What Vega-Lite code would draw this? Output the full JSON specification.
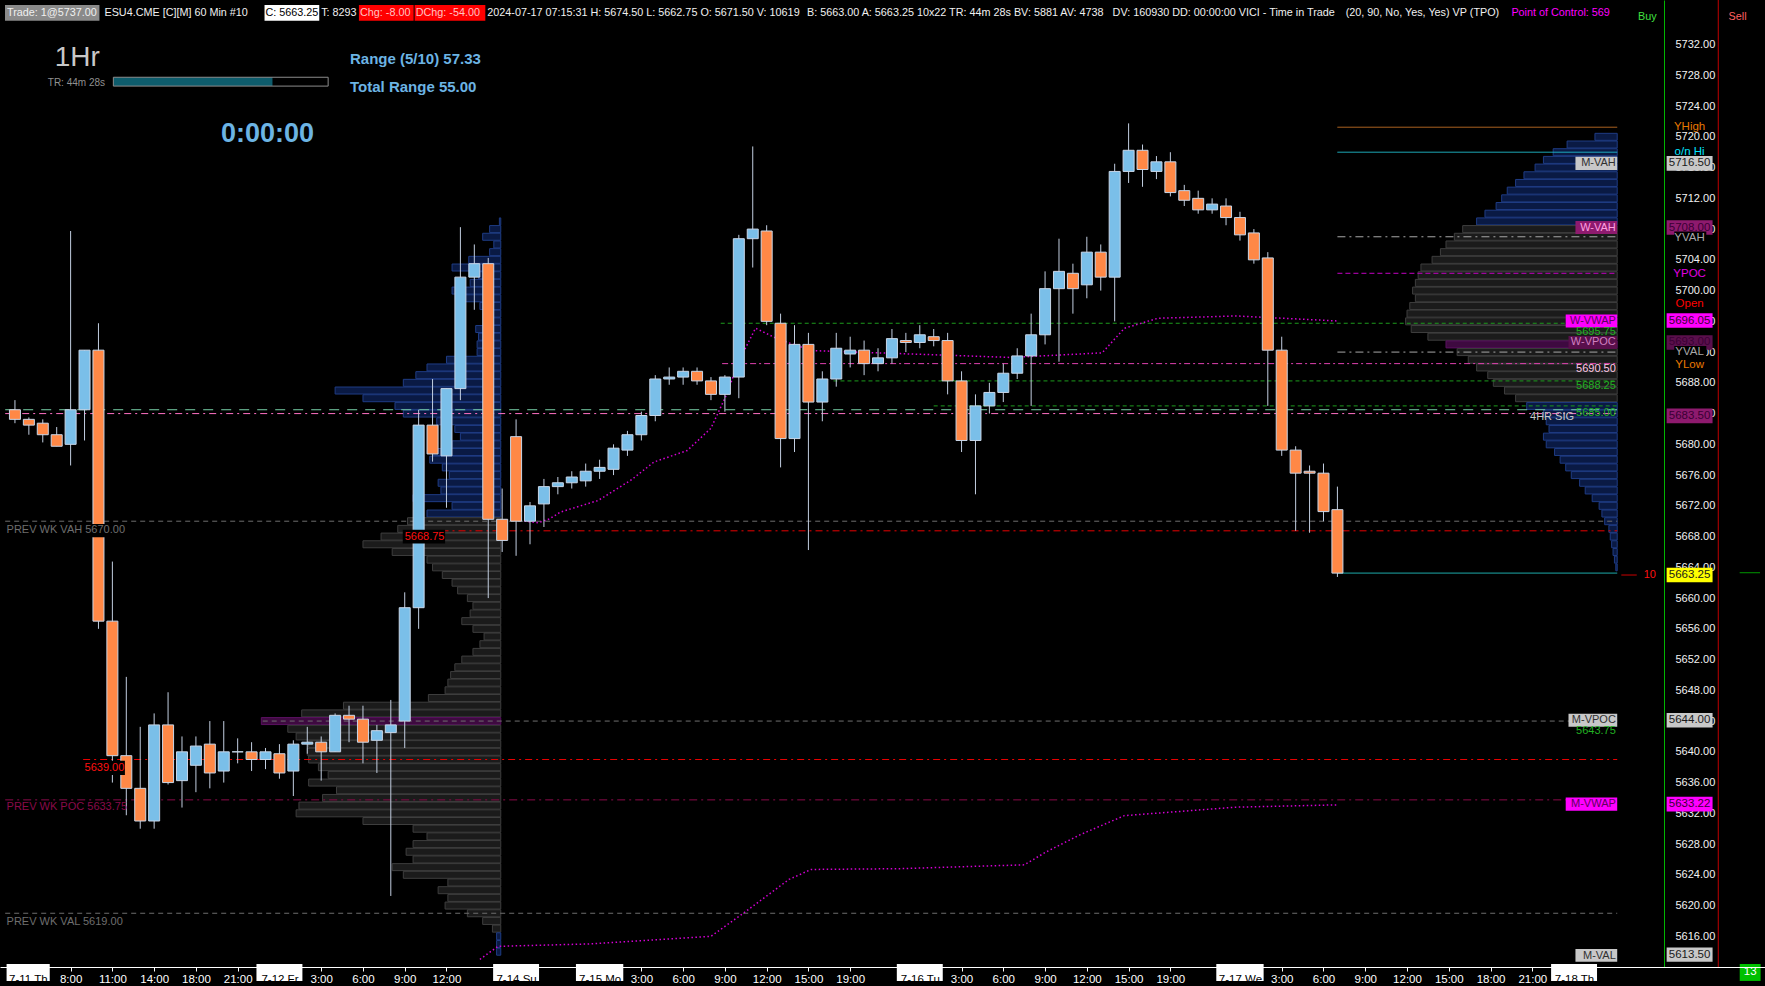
{
"$schema": "https://vega.github.io/schema/vega-lite/v6.json",
"width": 1765, "height": 967,
"autosize": {"type": "none"},
"padding": {"top": 0, "left": 0, "right": 0, "bottom": 19},
"background": "#000000",
"config": {"view": {"stroke": null}, "font": "Liberation Sans"},
"resolve": {"scale": {"fill": "independent", "stroke": "independent", "color": "independent", "strokeDash": "independent", "strokeWidth": "independent"}, "axis": {"x": "independent", "y": "independent"}},
"datasets": {
"candles": [
{"i":0,"o":5684.5,"h":5685.75,"l":5682.75,"c":5683.25},
{"i":1,"o":5683.25,"h":5683.5,"l":5681.25,"c":5682.5},
{"i":2,"o":5682.75,"h":5683.25,"l":5680.25,"c":5681.25},
{"i":3,"o":5681.25,"h":5682.25,"l":5679.75,"c":5679.75},
{"i":4,"o":5680.0,"h":5707.75,"l":5677.25,"c":5684.5},
{"i":5,"o":5684.5,"h":5692.25,"l":5680.5,"c":5692.25},
{"i":6,"o":5692.25,"h":5695.75,"l":5656.0,"c":5657.0},
{"i":7,"o":5657.0,"h":5664.75,"l":5636.0,"c":5639.5},
{"i":8,"o":5639.5,"h":5649.75,"l":5631.75,"c":5635.25},
{"i":9,"o":5635.25,"h":5643.25,"l":5630.0,"c":5631.0},
{"i":10,"o":5631.0,"h":5645.0,"l":5630.0,"c":5643.5},
{"i":11,"o":5643.5,"h":5647.75,"l":5635.75,"c":5636.0},
{"i":12,"o":5636.25,"h":5642.0,"l":5632.75,"c":5640.0},
{"i":13,"o":5638.25,"h":5642.0,"l":5634.75,"c":5640.75},
{"i":14,"o":5641.0,"h":5644.0,"l":5635.25,"c":5637.25},
{"i":15,"o":5637.5,"h":5644.0,"l":5636.0,"c":5640.0},
{"i":16,"o":5640.0,"h":5641.75,"l":5638.5,"c":5640.0},
{"i":17,"o":5640.0,"h":5641.25,"l":5637.5,"c":5639.0},
{"i":18,"o":5639.0,"h":5640.5,"l":5637.75,"c":5640.0},
{"i":19,"o":5639.75,"h":5641.0,"l":5636.5,"c":5637.25},
{"i":20,"o":5637.5,"h":5641.5,"l":5634.25,"c":5641.0},
{"i":21,"o":5641.0,"h":5643.25,"l":5639.75,"c":5641.25},
{"i":22,"o":5641.25,"h":5642.0,"l":5636.25,"c":5640.0},
{"i":23,"o":5640.0,"h":5645.0,"l":5640.0,"c":5644.75},
{"i":24,"o":5644.75,"h":5646.0,"l":5641.25,"c":5644.25},
{"i":25,"o":5644.25,"h":5646.0,"l":5638.5,"c":5641.25},
{"i":26,"o":5641.5,"h":5643.5,"l":5637.25,"c":5642.75},
{"i":27,"o":5642.5,"h":5646.75,"l":5621.25,"c":5643.5},
{"i":28,"o":5644.0,"h":5660.75,"l":5640.5,"c":5658.75},
{"i":29,"o":5658.75,"h":5684.5,"l":5656.0,"c":5682.5},
{"i":30,"o":5682.5,"h":5688.5,"l":5677.75,"c":5678.75},
{"i":31,"o":5678.5,"h":5687.25,"l":5671.75,"c":5687.25},
{"i":32,"o":5687.25,"h":5708.25,"l":5685.75,"c":5701.75},
{"i":33,"o":5701.75,"h":5706.0,"l":5697.5,"c":5703.5},
{"i":34,"o":5703.5,"h":5704.25,"l":5660.0,"c":5670.25},
{"i":35,"o":5670.25,"h":5674.25,"l":5666.0,"c":5667.5},
{"i":36,"o":5681.0,"h":5683.25,"l":5665.5,"c":5670.0},
{"i":37,"o":5670.0,"h":5672.5,"l":5667.0,"c":5672.0},
{"i":38,"o":5672.25,"h":5675.5,"l":5669.25,"c":5674.5},
{"i":39,"o":5674.5,"h":5675.75,"l":5673.5,"c":5675.0},
{"i":40,"o":5675.0,"h":5676.5,"l":5674.25,"c":5675.75},
{"i":41,"o":5675.25,"h":5677.5,"l":5674.5,"c":5676.5},
{"i":42,"o":5676.5,"h":5678.0,"l":5675.5,"c":5677.0},
{"i":43,"o":5676.75,"h":5680.0,"l":5676.0,"c":5679.5},
{"i":44,"o":5679.25,"h":5681.75,"l":5678.5,"c":5681.25},
{"i":45,"o":5681.25,"h":5684.25,"l":5680.5,"c":5683.75},
{"i":46,"o":5683.75,"h":5689.0,"l":5683.0,"c":5688.5},
{"i":47,"o":5688.5,"h":5690.0,"l":5687.75,"c":5688.75},
{"i":48,"o":5688.75,"h":5690.0,"l":5687.75,"c":5689.5},
{"i":49,"o":5689.5,"h":5690.0,"l":5687.75,"c":5688.25},
{"i":50,"o":5688.25,"h":5688.75,"l":5685.75,"c":5686.5},
{"i":51,"o":5686.5,"h":5689.0,"l":5684.25,"c":5688.75},
{"i":52,"o":5688.75,"h":5707.25,"l":5686.0,"c":5706.75},
{"i":53,"o":5706.75,"h":5718.75,"l":5703.0,"c":5708.0},
{"i":54,"o":5707.75,"h":5708.5,"l":5695.5,"c":5696.0},
{"i":55,"o":5695.75,"h":5697.0,"l":5677.0,"c":5680.75},
{"i":56,"o":5680.75,"h":5695.5,"l":5679.0,"c":5693.0},
{"i":57,"o":5693.0,"h":5694.5,"l":5666.25,"c":5685.5},
{"i":58,"o":5685.5,"h":5689.5,"l":5683.0,"c":5688.5},
{"i":59,"o":5688.5,"h":5694.5,"l":5687.5,"c":5692.5},
{"i":60,"o":5691.75,"h":5694.0,"l":5690.0,"c":5692.25},
{"i":61,"o":5692.25,"h":5693.5,"l":5689.0,"c":5690.5},
{"i":62,"o":5690.5,"h":5692.5,"l":5689.5,"c":5691.25},
{"i":63,"o":5691.25,"h":5695.0,"l":5690.5,"c":5693.75},
{"i":64,"o":5693.5,"h":5694.5,"l":5692.0,"c":5693.25},
{"i":65,"o":5693.25,"h":5695.5,"l":5692.5,"c":5694.25},
{"i":66,"o":5694.0,"h":5695.0,"l":5692.75,"c":5693.5},
{"i":67,"o":5693.5,"h":5694.5,"l":5686.5,"c":5688.25},
{"i":68,"o":5688.25,"h":5689.5,"l":5679.0,"c":5680.5},
{"i":69,"o":5680.5,"h":5686.5,"l":5673.5,"c":5685.0},
{"i":70,"o":5685.0,"h":5688.0,"l":5684.0,"c":5686.75},
{"i":71,"o":5686.75,"h":5690.5,"l":5685.5,"c":5689.25},
{"i":72,"o":5689.25,"h":5692.5,"l":5688.5,"c":5691.5},
{"i":73,"o":5691.5,"h":5697.0,"l":5685.0,"c":5694.25},
{"i":74,"o":5694.25,"h":5702.5,"l":5693.0,"c":5700.25},
{"i":75,"o":5700.25,"h":5706.75,"l":5690.75,"c":5702.5},
{"i":76,"o":5702.25,"h":5703.5,"l":5697.0,"c":5700.25},
{"i":77,"o":5700.75,"h":5707.0,"l":5699.0,"c":5705.0},
{"i":78,"o":5705.0,"h":5706.0,"l":5700.0,"c":5701.75},
{"i":79,"o":5701.75,"h":5716.5,"l":5696.0,"c":5715.5},
{"i":80,"o":5715.5,"h":5721.75,"l":5714.0,"c":5718.25},
{"i":81,"o":5718.25,"h":5719.0,"l":5713.5,"c":5715.75},
{"i":82,"o":5715.5,"h":5717.5,"l":5714.5,"c":5716.75},
{"i":83,"o":5716.75,"h":5718.0,"l":5712.25,"c":5712.75},
{"i":84,"o":5713.0,"h":5713.75,"l":5711.0,"c":5711.75},
{"i":85,"o":5712.0,"h":5713.0,"l":5710.0,"c":5710.5},
{"i":86,"o":5710.5,"h":5712.0,"l":5710.0,"c":5711.25},
{"i":87,"o":5711.0,"h":5712.0,"l":5708.5,"c":5709.5},
{"i":88,"o":5709.5,"h":5710.25,"l":5706.5,"c":5707.25},
{"i":89,"o":5707.5,"h":5708.0,"l":5703.5,"c":5704.0},
{"i":90,"o":5704.25,"h":5705.0,"l":5685.0,"c":5692.25},
{"i":91,"o":5692.25,"h":5694.0,"l":5678.5,"c":5679.25},
{"i":92,"o":5679.25,"h":5679.75,"l":5668.75,"c":5676.25},
{"i":93,"o":5676.5,"h":5677.25,"l":5668.5,"c":5676.25},
{"i":94,"o":5676.25,"h":5677.5,"l":5670.0,"c":5671.25},
{"i":95,"o":5671.5,"h":5674.5,"l":5662.75,"c":5663.25}
],
"prof1": [
{"p":5709,"s":34.8,"k":"b"},{"p":5708,"s":34.1,"k":"b"},{"p":5707,"s":33.6,"k":"b"},{"p":5706,"s":34.4,"k":"b"},{"p":5705,"s":34.1,"k":"b"},{"p":5704,"s":32.6,"k":"b"},{"p":5703,"s":31.4,"k":"b"},{"p":5702,"s":33.3,"k":"b"},{"p":5701,"s":32.7,"k":"b"},{"p":5700,"s":31.4,"k":"b"},{"p":5699,"s":32.0,"k":"b"},{"p":5698,"s":33.4,"k":"b"},{"p":5697,"s":34.0,"k":"b"},{"p":5696,"s":33.8,"k":"b"},{"p":5695,"s":33.1,"k":"b"},{"p":5694,"s":33.3,"k":"b"},{"p":5693,"s":33.2,"k":"b"},{"p":5692,"s":33.2,"k":"b"},{"p":5691,"s":31.0,"k":"b"},{"p":5690,"s":29.6,"k":"b"},{"p":5689,"s":28.8,"k":"b"},{"p":5688,"s":27.9,"k":"b"},{"p":5687,"s":23.0,"k":"b"},{"p":5686,"s":25.0,"k":"b"},{"p":5685,"s":27.3,"k":"b"},{"p":5684,"s":27.9,"k":"b"},{"p":5683,"s":30.3,"k":"b"},{"p":5682,"s":31.6,"k":"b"},{"p":5681,"s":32.0,"k":"b"},{"p":5680,"s":31.4,"k":"b"},{"p":5679,"s":30.0,"k":"b"},{"p":5678,"s":29.8,"k":"b"},{"p":5677,"s":30.7,"k":"b"},{"p":5676,"s":31.2,"k":"b"},{"p":5675,"s":30.4,"k":"b"},{"p":5674,"s":30.6,"k":"b"},{"p":5673,"s":28.6,"k":"b"},{"p":5672,"s":31.4,"k":"b"},{"p":5671,"s":29.6,"k":"b"},
{"p":5670,"s":28.2,"k":"g"},{"p":5669,"s":27.5,"k":"g"},{"p":5668,"s":26.3,"k":"g"},{"p":5667,"s":25.0,"k":"g"},{"p":5666,"s":27.1,"k":"g"},{"p":5665,"s":29.6,"k":"g"},{"p":5664,"s":30.0,"k":"g"},{"p":5663,"s":30.7,"k":"g"},{"p":5662,"s":31.4,"k":"g"},{"p":5661,"s":31.8,"k":"g"},{"p":5660,"s":32.5,"k":"g"},{"p":5659,"s":32.9,"k":"g"},{"p":5658,"s":32.7,"k":"g"},{"p":5657,"s":32.1,"k":"g"},{"p":5656,"s":32.9,"k":"g"},{"p":5655,"s":33.7,"k":"g"},{"p":5654,"s":33.4,"k":"g"},{"p":5653,"s":32.9,"k":"g"},{"p":5652,"s":32.1,"k":"g"},{"p":5651,"s":31.6,"k":"g"},{"p":5650,"s":31.3,"k":"g"},{"p":5649,"s":31.1,"k":"g"},{"p":5648,"s":30.9,"k":"g"},{"p":5647,"s":29.7,"k":"g"},{"p":5646,"s":23.6,"k":"g"},{"p":5645,"s":20.6,"k":"g"},{"p":5644,"s":17.7,"k":"poc"},{"p":5643,"s":19.6,"k":"g"},{"p":5642,"s":20.2,"k":"g"},{"p":5641,"s":21.1,"k":"g"},{"p":5640,"s":21.0,"k":"g"},{"p":5639,"s":21.1,"k":"g"},{"p":5638,"s":21.8,"k":"g"},{"p":5637,"s":22.5,"k":"g"},{"p":5636,"s":21.1,"k":"g"},{"p":5635,"s":23.1,"k":"g"},{"p":5634,"s":22.1,"k":"g"},{"p":5633,"s":20.4,"k":"g"},{"p":5632,"s":20.2,"k":"g"},{"p":5631,"s":25.0,"k":"g"},{"p":5630,"s":28.6,"k":"g"},{"p":5629,"s":29.6,"k":"g"},{"p":5628,"s":28.6,"k":"g"},{"p":5627,"s":28.1,"k":"g"},{"p":5626,"s":28.6,"k":"g"},{"p":5625,"s":27.1,"k":"g"},{"p":5624,"s":27.9,"k":"g"},{"p":5623,"s":31.1,"k":"g"},{"p":5622,"s":30.4,"k":"g"},{"p":5621,"s":31.1,"k":"g"},{"p":5620,"s":30.9,"k":"g"},{"p":5619,"s":32.5,"k":"g"},{"p":5618,"s":33.6,"k":"g"},{"p":5617,"s":34.3,"k":"g"},{"p":5616,"s":34.6,"k":"b"},{"p":5615,"s":34.6,"k":"b"},{"p":5614,"s":34.6,"k":"b"}
],
"prof2": [
{"p":5720,"s":113.5,"k":"b"},{"p":5719,"s":111.5,"k":"b"},{"p":5718,"s":110.5,"k":"b"},{"p":5717,"s":109.8,"k":"b"},{"p":5716,"s":109.2,"k":"b"},{"p":5715,"s":108.4,"k":"b"},{"p":5714,"s":107.8,"k":"b"},{"p":5713,"s":107.2,"k":"b"},{"p":5712,"s":106.8,"k":"b"},{"p":5711,"s":106.4,"k":"b"},{"p":5710,"s":105.6,"k":"b"},{"p":5709,"s":105.0,"k":"b"},
{"p":5708,"s":104.0,"k":"g"},{"p":5707,"s":103.4,"k":"g"},{"p":5706,"s":102.8,"k":"g"},{"p":5705,"s":102.4,"k":"g"},{"p":5704,"s":101.8,"k":"g"},{"p":5703,"s":101.0,"k":"g"},{"p":5702,"s":100.8,"k":"g"},{"p":5701,"s":100.6,"k":"g"},{"p":5700,"s":100.4,"k":"g"},{"p":5699,"s":100.6,"k":"g"},{"p":5698,"s":100.2,"k":"g"},{"p":5697,"s":100.0,"k":"g"},{"p":5696,"s":99.9,"k":"g"},{"p":5695,"s":100.3,"k":"g"},{"p":5694,"s":101.5,"k":"g"},{"p":5693,"s":102.8,"k":"poc"},{"p":5692,"s":103.6,"k":"g"},{"p":5691,"s":104.4,"k":"g"},{"p":5690,"s":105.0,"k":"g"},{"p":5689,"s":105.8,"k":"g"},{"p":5688,"s":106.2,"k":"g"},{"p":5687,"s":107.0,"k":"g"},{"p":5686,"s":107.8,"k":"g"},
{"p":5685,"s":108.6,"k":"b"},{"p":5684,"s":109.8,"k":"b"},{"p":5683,"s":110.0,"k":"b"},{"p":5682,"s":110.2,"k":"b"},{"p":5681,"s":109.8,"k":"b"},{"p":5680,"s":110.0,"k":"b"},{"p":5679,"s":110.6,"k":"b"},{"p":5678,"s":111.0,"k":"b"},{"p":5677,"s":111.4,"k":"b"},{"p":5676,"s":111.8,"k":"b"},{"p":5675,"s":112.4,"k":"b"},{"p":5674,"s":112.8,"k":"b"},{"p":5673,"s":113.3,"k":"b"},{"p":5672,"s":113.8,"k":"b"},{"p":5671,"s":114.0,"k":"b"},{"p":5670,"s":114.2,"k":"b"},{"p":5669,"s":114.5,"k":"b"},{"p":5668,"s":114.6,"k":"b"},{"p":5667,"s":114.7,"k":"b"},{"p":5666,"s":114.8,"k":"b"},{"p":5665,"s":114.9,"k":"b"},{"p":5664,"s":115.0,"k":"b"}
],
"levels": [
{"p":5721.25,"x0":95.0,"x1":115.1,"k":"yhigh"},
{"p":5718.0,"x0":95.0,"x1":115.1,"k":"onhi"},
{"p":5707.0,"x0":95.0,"x1":115.1,"k":"ygray"},
{"p":5702.25,"x0":95.0,"x1":115.1,"k":"ypoc"},
{"p":5695.75,"x0":50.7,"x1":115.1,"k":"green"},
{"p":5692.0,"x0":95.0,"x1":115.1,"k":"ygray"},
{"p":5690.5,"x0":50.8,"x1":115.1,"k":"pinkdd"},
{"p":5688.25,"x0":58.8,"x1":115.1,"k":"green"},
{"p":5685.0,"x0":66.0,"x1":115.1,"k":"green"},
{"p":5684.5,"x0":-0.7,"x1":115.1,"k":"mint"},
{"p":5684.0,"x0":-0.7,"x1":115.1,"k":"pink"},
{"p":5670.0,"x0":-0.7,"x1":115.1,"k":"gray"},
{"p":5668.75,"x0":28.2,"x1":115.1,"k":"red"},
{"p":5663.25,"x0":95.0,"x1":115.1,"k":"cyan"},
{"p":5644.0,"x0":17.8,"x1":115.1,"k":"gray"},
{"p":5639.0,"x0":4.9,"x1":115.1,"k":"red"},
{"p":5633.75,"x0":-0.7,"x1":115.1,"k":"mag"},
{"p":5619.0,"x0":-0.7,"x1":115.1,"k":"gray"},
{"p":5663.3,"x0":123.9,"x1":125.36,"k":"greenbar"},
{"p":5663.0,"x0":115.4,"x1":116.5,"k":"redshort"}
],
"vwap": [
{"s":"w","i":36.6,"p":5670.0},{"s":"w","i":37.6,"p":5669.8},{"s":"w","i":38.4,"p":5670.3},{"s":"w","i":39.2,"p":5671.2},{"s":"w","i":41.9,"p":5672.7},{"s":"w","i":44.3,"p":5675.4},{"s":"w","i":45.9,"p":5677.7},{"s":"w","i":48.3,"p":5679.2},{"s":"w","i":50.0,"p":5682.1},{"s":"w","i":51.1,"p":5686.4},{"s":"w","i":52.0,"p":5690.8},{"s":"w","i":53.2,"p":5695.1},{"s":"w","i":54.8,"p":5693.7},{"s":"w","i":57.2,"p":5692.2},{"s":"w","i":63.6,"p":5691.8},{"s":"w","i":71.6,"p":5691.3},{"s":"w","i":78.1,"p":5691.9},{"s":"w","i":79.7,"p":5695.1},{"s":"w","i":82.1,"p":5696.4},{"s":"w","i":87.7,"p":5696.7},{"s":"w","i":95.0,"p":5696.05},
{"s":"m","i":33.4,"p":5613.0},{"s":"m","i":34.7,"p":5614.7},{"s":"m","i":41.1,"p":5615.0},{"s":"m","i":50.0,"p":5616.0},{"s":"m","i":52.4,"p":5619.1},{"s":"m","i":55.6,"p":5623.4},{"s":"m","i":57.2,"p":5624.7},{"s":"m","i":63.6,"p":5624.8},{"s":"m","i":72.5,"p":5625.3},{"s":"m","i":74.1,"p":5627.0},{"s":"m","i":76.5,"p":5629.2},{"s":"m","i":79.7,"p":5631.7},{"s":"m","i":87.7,"p":5632.8},{"s":"m","i":95.0,"p":5633.1}
],
"boxes": [
{"x0":-0.714,"x1":6.07,"p0":5737.15,"p1":5735.1,"k":"hgray"},
{"x0":17.93,"x1":21.86,"p0":5737.15,"p1":5735.1,"k":"hwhite"},
{"x0":24.71,"x1":28.64,"p0":5737.15,"p1":5735.1,"k":"hred"},
{"x0":28.71,"x1":33.79,"p0":5737.15,"p1":5735.1,"k":"hred"},
{"x0":7.07,"x1":18.5,"p0":5727.75,"p1":5726.6,"k":"barfill"},
{"x0":7.07,"x1":22.5,"p0":5727.75,"p1":5726.6,"k":"barout"},
{"x0":-0.714,"x1":8.0,"p0":5669.65,"p1":5667.9,"k":"black"},
{"x0":27.86,"x1":30.9,"p0":5668.9,"p1":5667.1,"k":"black"},
{"x0":5.0,"x1":7.9,"p0":5638.85,"p1":5637.0,"k":"black"},
{"x0":118.65,"x1":121.95,"p0":5717.5,"p1":5715.6,"k":"tgray"},
{"x0":118.65,"x1":121.95,"p0":5709.15,"p1":5707.25,"k":"tpurple"},
{"x0":118.65,"x1":121.95,"p0":5697.05,"p1":5695.15,"k":"tmag"},
{"x0":118.65,"x1":121.95,"p0":5694.2,"p1":5692.3,"k":"tdpurple"},
{"x0":118.65,"x1":121.95,"p0":5684.65,"p1":5682.75,"k":"tpurple"},
{"x0":118.65,"x1":121.95,"p0":5663.95,"p1":5662.05,"k":"tyellow"},
{"x0":118.65,"x1":121.95,"p0":5645.05,"p1":5643.15,"k":"tgray"},
{"x0":118.65,"x1":121.95,"p0":5634.15,"p1":5632.25,"k":"tmag"},
{"x0":118.65,"x1":121.95,"p0":5614.55,"p1":5612.7,"k":"tgray"},
{"x0":119.2,"x1":121.5,"p0":5707.7,"p1":5706.1,"k":"black"},
{"x0":119.2,"x1":121.5,"p0":5692.8,"p1":5691.2,"k":"black"},
{"x0":112.1,"x1":115.1,"p0":5717.4,"p1":5715.7,"k":"tgray"},
{"x0":112.1,"x1":115.1,"p0":5709.05,"p1":5707.35,"k":"tpurple"},
{"x0":111.4,"x1":115.1,"p0":5696.9,"p1":5695.2,"k":"tmag"},
{"x0":111.6,"x1":115.1,"p0":5694.1,"p1":5692.4,"k":"tdpurple"},
{"x0":111.6,"x1":115.1,"p0":5644.95,"p1":5643.25,"k":"tgray"},
{"x0":111.4,"x1":115.1,"p0":5634.05,"p1":5632.35,"k":"tmag"},
{"x0":112.1,"x1":115.1,"p0":5614.35,"p1":5612.7,"k":"tgray"},
{"x0":-0.6,"x1":2.5,"p0":5612.4,"p1":5610.2,"k":"date"},
{"x0":17.35,"x1":20.65,"p0":5612.4,"p1":5610.2,"k":"date"},
{"x0":34.35,"x1":37.65,"p0":5612.4,"p1":5610.2,"k":"date"},
{"x0":40.3,"x1":43.7,"p0":5612.4,"p1":5610.2,"k":"date"},
{"x0":63.35,"x1":66.65,"p0":5612.4,"p1":5610.2,"k":"date"},
{"x0":86.3,"x1":89.7,"p0":5612.4,"p1":5610.2,"k":"date"},
{"x0":110.35,"x1":113.65,"p0":5612.4,"p1":5610.2,"k":"date"},
{"x0":123.9,"x1":125.4,"p0":5612.4,"p1":5610.2,"k":"green13"}
]
},
"layer": [
{
"data": {"name": "prof1"},
"mark": {"type": "bar", "orient": "horizontal", "height": 7, "strokeWidth": 1, "clip": false},
"encoding": {
"x": {"field": "s", "type": "quantitative", "scale": {"domain": [-0.714, 125.357], "nice": false, "zero": false}, "axis": null},
"x2": {"datum": 34.9},
"y": {"field": "p", "type": "quantitative", "scale": {"domain": [5612.66, 5737.15], "nice": false, "zero": false}, "axis": null},
"fill": {"field": "k", "type": "nominal", "scale": {"domain": ["b", "g", "poc"], "range": ["#0a1a44", "#1b1b1b", "#3e0a40"]}, "legend": null},
"stroke": {"field": "k", "type": "nominal", "scale": {"domain": ["b", "g", "poc"], "range": ["#1f3c84", "#3e3e3e", "#5a1060"]}, "legend": null}
}
},
{
"data": {"name": "prof2"},
"mark": {"type": "bar", "orient": "horizontal", "height": 7, "strokeWidth": 1, "clip": false},
"encoding": {
"x": {"field": "s", "type": "quantitative", "scale": {"domain": [-0.714, 125.357], "nice": false, "zero": false}, "axis": null},
"x2": {"datum": 115.1},
"y": {"field": "p", "type": "quantitative", "scale": {"domain": [5612.66, 5737.15], "nice": false, "zero": false}, "axis": null},
"fill": {"field": "k", "type": "nominal", "scale": {"domain": ["b", "g", "poc"], "range": ["#0a1a44", "#1b1b1b", "#3e0a40"]}, "legend": null},
"stroke": {"field": "k", "type": "nominal", "scale": {"domain": ["b", "g", "poc"], "range": ["#1f3c84", "#3e3e3e", "#5a1060"]}, "legend": null}
}
},
{
"data": {"name": "levels"},
"mark": {"type": "rule", "clip": false},
"encoding": {
"x": {"field": "x0", "type": "quantitative", "scale": {"domain": [-0.714, 125.357], "nice": false, "zero": false}, "axis": null},
"x2": {"field": "x1"},
"y": {"field": "p", "type": "quantitative", "scale": {"domain": [5612.66, 5737.15], "nice": false, "zero": false}, "axis": null},
"color": {"field": "k", "type": "nominal", "legend": null, "scale": {"domain": ["yhigh","onhi","ygray","ypoc","green","pinkdd","mint","pink","gray","red","mag","cyan","greenbar","redshort"], "range": ["#c87426","#22c4d4","#a8a8a8","#c400c4","#1c9a1c","#e040b0","#78d0a8","#ff70c4","#6e6e6e","#e80000","#8a0a4a","#22c4c4","#00b000","#e80000"]}},
"strokeDash": {"field": "k", "type": "nominal", "legend": null, "scale": {"domain": ["yhigh","onhi","ygray","ypoc","green","pinkdd","mint","pink","gray","red","mag","cyan","greenbar","redshort"], "range": [[1,0],[1,0],[8,4,2,4],[5,3],[4,3],[6,3,2,3],[10,8],[7,4,2,4],[5,4],[7,4,2,4],[8,4,2,4],[1,0],[1,0],[1,0]]}},
"strokeWidth": {"field": "k", "type": "nominal", "legend": null, "scale": {"domain": ["yhigh","onhi","ygray","ypoc","green","pinkdd","mint","pink","gray","red","mag","cyan","greenbar","redshort"], "range": [1,1,1,1.2,1.2,1.5,1.5,2,1,2,1.2,1,4,2]}}
}
},
{
"data": {"name": "vwap"},
"mark": {"type": "line", "strokeDash": [1.5, 2.5], "strokeWidth": 1.5, "color": "#d400d4", "clip": false},
"encoding": {
"x": {"field": "i", "type": "quantitative", "scale": {"domain": [-0.714, 125.357], "nice": false, "zero": false}, "axis": null},
"y": {"field": "p", "type": "quantitative", "scale": {"domain": [5612.66, 5737.15], "nice": false, "zero": false}, "axis": null},
"detail": {"field": "s", "type": "nominal"}
}
},
{
"data": {"name": "candles"},
"mark": {"type": "rule", "color": "#c2cee0", "strokeWidth": 1},
"encoding": {
"x": {"field": "i", "type": "quantitative", "scale": {"domain": [-0.714, 125.357], "nice": false, "zero": false},
"axis": {"orient": "bottom", "title": null, "grid": false, "zindex": 1,
"values": [0.93,4,7,10,13,16,19,22,25,28,31,36,42,45,48,51,54,57,60,65,68,71,74,77,80,83,88,91,94,97,100,103,106,109,112],
"labelExpr": "['7-11 Th','8:00','11:00','14:00','18:00','21:00','7-12 Fr','3:00','6:00','9:00','12:00','7-14 Su','7-15 Mo','3:00','6:00','9:00','12:00','15:00','19:00','7-16 Tu','3:00','6:00','9:00','12:00','15:00','19:00','7-17 We','3:00','6:00','9:00','12:00','15:00','18:00','21:00','7-18 Th'][indexof([0.93,4,7,10,13,16,19,22,25,28,31,36,42,45,48,51,54,57,60,65,68,71,74,77,80,83,88,91,94,97,100,103,106,109,112], datum.value)]",
"labelColor": {"condition": {"test": "indexof([0.93,19,36,42,65,88,112], datum.value) >= 0", "value": "#000000"}, "value": "#ffffff"},
"labelFont": "Liberation Sans", "labelFontSize": 11.5, "labelPadding": 2, "labelOverlap": false, "labelFlush": false, "labelBound": false,
"tickColor": "#ffffff", "tickSize": 4, "domainColor": "#ffffff", "domainWidth": 1}},
"y": {"field": "l", "type": "quantitative", "scale": {"domain": [5612.66, 5737.15], "nice": false, "zero": false},
"axis": {"orient": "right", "offset": -101, "title": null, "grid": false, "ticks": false,
"values": [5616,5620,5624,5628,5632,5636,5640,5644,5648,5652,5656,5660,5664,5668,5672,5676,5680,5684,5688,5692,5696,5700,5704,5708,5712,5716,5720,5724,5728,5732],
"format": ".2f", "labelColor": "#f2f2f2", "labelFont": "Liberation Sans", "labelFontSize": 11, "labelPadding": 11, "labelAlign": "left", "labelBaseline": "middle",
"labelOverlap": false, "labelFlush": false, "labelBound": false, "domainColor": "#00b400", "domainWidth": 1}},
"y2": {"field": "h"}
}
},
{
"data": {"name": "candles"},
"mark": {"type": "bar", "orient": "vertical", "width": 11, "stroke": "#c8d6e8", "strokeWidth": 1},
"encoding": {
"x": {"field": "i", "type": "quantitative", "scale": {"domain": [-0.714, 125.357], "nice": false, "zero": false}, "axis": null},
"y": {"field": "o", "type": "quantitative", "scale": {"domain": [5612.66, 5737.15], "nice": false, "zero": false}, "axis": null},
"y2": {"field": "c"},
"fill": {"condition": {"test": "datum.c >= datum.o", "value": "#7abfe9"}, "value": "#ff8846"}
}
},
{
"data": {"name": "boxes"},
"mark": {"type": "rect", "strokeWidth": 1, "clip": false},
"encoding": {
"x": {"field": "x0", "type": "quantitative", "scale": {"domain": [-0.714, 125.357], "nice": false, "zero": false}, "axis": null},
"x2": {"field": "x1"},
"y": {"field": "p0", "type": "quantitative", "scale": {"domain": [5612.66, 5737.15], "nice": false, "zero": false}, "axis": null},
"y2": {"field": "p1"},
"fill": {"field": "k", "type": "nominal", "legend": null, "scale": {"domain": ["hgray","hwhite","hred","barfill","barout","tgray","tpurple","tmag","tdpurple","tyellow","date","green13","black"], "range": ["#8a8a8a","#ffffff","#ff0000","#0e5c6c","rgba(0,0,0,0)","#c8c8c8","#8e1a6e","#ff00ff","#5a0f4c","#ffff00","#ffffff","#00c000","#000000"]}},
"stroke": {"field": "k", "type": "nominal", "legend": null, "scale": {"domain": ["hgray","hwhite","hred","barfill","barout","tgray","tpurple","tmag","tdpurple","tyellow","date","green13","black"], "range": ["rgba(0,0,0,0)","rgba(0,0,0,0)","rgba(0,0,0,0)","rgba(0,0,0,0)","#8c8c8c","rgba(0,0,0,0)","rgba(0,0,0,0)","rgba(0,0,0,0)","rgba(0,0,0,0)","rgba(0,0,0,0)","rgba(0,0,0,0)","rgba(0,0,0,0)","rgba(0,0,0,0)"]}}
}
},
{
"data": {"values": [{"x":122.36}]},
"mark": {"type": "rule", "color": "#c00000", "strokeWidth": 1},
"encoding": {
"x": {"field": "x", "type": "quantitative", "scale": {"domain": [-0.714, 125.357], "nice": false, "zero": false}, "axis": null}
}
},
{
"data": {"values": [
{"x":-0.57,"p":5736.1,"t":"Trade: 1@5737.00","k":"w"},
{"x":6.43,"p":5736.1,"t":"ESU4.CME [C][M]  60 Min  #10","k":"w"},
{"x":18.0,"p":5736.1,"t":"C: 5663.25","k":"k"},
{"x":22.0,"p":5736.1,"t":"T: 8293","k":"w"},
{"x":24.79,"p":5736.1,"t":"Chg: -8.00","k":"pk"},
{"x":28.79,"p":5736.1,"t":"DChg: -54.00","k":"pk"},
{"x":33.93,"p":5736.1,"t":"2024-07-17 07:15:31 H: 5674.50 L: 5662.75 O: 5671.50 V: 10619","k":"w"},
{"x":56.9,"p":5736.1,"t":"B: 5663.00 A: 5663.25 10x22 TR: 44m 28s BV: 5881 AV: 4738","k":"w"},
{"x":78.85,"p":5736.1,"t":"DV: 160930 DD: 00:00:00 VICI - Time in Trade","k":"w"},
{"x":95.6,"p":5736.1,"t":"(20, 90, No, Yes, Yes)  VP (TPO)","k":"w"},
{"x":107.5,"p":5736.1,"t":"Point of Control: 569","k":"m"},
{"x":116.6,"p":5735.6,"t":"Buy","k":"g"},
{"x":123.1,"p":5735.6,"t":"Sell","k":"r"}
]},
"mark": {"type": "text", "align": "left", "baseline": "middle", "fontSize": 10.8, "font": "Liberation Sans", "clip": false},
"encoding": {
"x": {"field": "x", "type": "quantitative", "scale": {"domain": [-0.714, 125.357], "nice": false, "zero": false}, "axis": null},
"y": {"field": "p", "type": "quantitative", "scale": {"domain": [5612.66, 5737.15], "nice": false, "zero": false}, "axis": null},
"text": {"field": "t"},
"color": {"field": "k", "type": "nominal", "legend": null, "scale": {"domain": ["w","k","pk","m","g","r"], "range": ["#f0f0f0","#000000","#ffc4c4","#ff00ff","#40e040","#ff6060"]}}
}
},
{
"data": {"values": [{"x":2.86,"p":5730.2,"t":"1Hr"}]},
"mark": {"type": "text", "align": "left", "baseline": "middle", "fontSize": 28, "font": "Liberation Sans", "color": "#c8c8c8"},
"encoding": {
"x": {"field": "x", "type": "quantitative", "scale": {"domain": [-0.714, 125.357], "nice": false, "zero": false}, "axis": null},
"y": {"field": "p", "type": "quantitative", "scale": {"domain": [5612.66, 5737.15], "nice": false, "zero": false}, "axis": null},
"text": {"field": "t"}
}
},
{
"data": {"values": [{"x":2.36,"p":5727.0,"t":"TR: 44m 28s"}]},
"mark": {"type": "text", "align": "left", "baseline": "middle", "fontSize": 10, "font": "Liberation Sans", "color": "#909090"},
"encoding": {
"x": {"field": "x", "type": "quantitative", "scale": {"domain": [-0.714, 125.357], "nice": false, "zero": false}, "axis": null},
"y": {"field": "p", "type": "quantitative", "scale": {"domain": [5612.66, 5737.15], "nice": false, "zero": false}, "axis": null},
"text": {"field": "t"}
}
},
{
"data": {"values": [{"x":24.07,"p":5730.07,"t":"Range (5/10) 57.33"},{"x":24.07,"p":5726.46,"t":"Total Range 55.00"}]},
"mark": {"type": "text", "align": "left", "baseline": "middle", "fontSize": 15, "fontWeight": "bold", "font": "Liberation Sans", "color": "#6cb4e4"},
"encoding": {
"x": {"field": "x", "type": "quantitative", "scale": {"domain": [-0.714, 125.357], "nice": false, "zero": false}, "axis": null},
"y": {"field": "p", "type": "quantitative", "scale": {"domain": [5612.66, 5737.15], "nice": false, "zero": false}, "axis": null},
"text": {"field": "t"}
}
},
{
"data": {"values": [{"x":18.14,"p":5720.34,"t":"0:00:00"}]},
"mark": {"type": "text", "align": "center", "baseline": "middle", "fontSize": 27, "fontWeight": "bold", "font": "Liberation Sans", "color": "#6cb4e4"},
"encoding": {
"x": {"field": "x", "type": "quantitative", "scale": {"domain": [-0.714, 125.357], "nice": false, "zero": false}, "axis": null},
"y": {"field": "p", "type": "quantitative", "scale": {"domain": [5612.66, 5737.15], "nice": false, "zero": false}, "axis": null},
"text": {"field": "t"}
}
},
{
"data": {"values": [
{"x":-0.6,"p":5668.8,"t":"PREV WK VAH  5670.00","k":"gy"},
{"x":28.0,"p":5668.0,"t":"5668.75","k":"rd"},
{"x":5.0,"p":5637.9,"t":"5639.00","k":"rd"},
{"x":-0.6,"p":5632.8,"t":"PREV WK POC  5633.75","k":"mg"},
{"x":-0.6,"p":5617.9,"t":"PREV WK VAL  5619.00","k":"gy"},
{"x":117.0,"p":5663.0,"t":"10","k":"rd"}
]},
"mark": {"type": "text", "align": "left", "baseline": "middle", "fontSize": 11, "font": "Liberation Sans"},
"encoding": {
"x": {"field": "x", "type": "quantitative", "scale": {"domain": [-0.714, 125.357], "nice": false, "zero": false}, "axis": null},
"y": {"field": "p", "type": "quantitative", "scale": {"domain": [5612.66, 5737.15], "nice": false, "zero": false}, "axis": null},
"text": {"field": "t"},
"color": {"field": "k", "type": "nominal", "legend": null, "scale": {"domain": ["gy","rd","mg"], "range": ["#6e6e6e","#ff1010","#8a0a4a"]}}
}
},
{
"data": {"values": [
{"x":115.0,"p":5716.55,"t":"M-VAH","k":"dk"},
{"x":115.0,"p":5708.2,"t":"W-VAH","k":"pkl"},
{"x":115.0,"p":5696.05,"t":"W-VWAP","k":"mg"},
{"x":115.0,"p":5694.6,"t":"5695.75","k":"gr"},
{"x":115.0,"p":5693.25,"t":"W-VPOC","k":"pv"},
{"x":115.0,"p":5689.85,"t":"5690.50","k":"pw"},
{"x":115.0,"p":5687.55,"t":"5688.25","k":"gr"},
{"x":112.0,"p":5683.5,"t":"4HR SIG","k":"lw"},
{"x":115.0,"p":5684.05,"t":"5685.00","k":"gr"},
{"x":115.0,"p":5644.1,"t":"M-VPOC","k":"dk"},
{"x":115.0,"p":5642.7,"t":"5643.75","k":"gr"},
{"x":115.0,"p":5633.2,"t":"M-VWAP","k":"mg"},
{"x":115.0,"p":5613.5,"t":"M-VAL","k":"dk"}
]},
"mark": {"type": "text", "align": "right", "baseline": "middle", "fontSize": 11, "font": "Liberation Sans"},
"encoding": {
"x": {"field": "x", "type": "quantitative", "scale": {"domain": [-0.714, 125.357], "nice": false, "zero": false}, "axis": null},
"y": {"field": "p", "type": "quantitative", "scale": {"domain": [5612.66, 5737.15], "nice": false, "zero": false}, "axis": null},
"text": {"field": "t"},
"color": {"field": "k", "type": "nominal", "legend": null, "scale": {"domain": ["dk","pkl","mg","gr","pv","pw","lw"], "range": ["#303030","#ffa0e0","#600060","#22b022","#d080c0","#ffc8e6","#c8c8c8"]}}
}
},
{
"data": {"values": [
{"x":120.3,"p":5716.55,"t":"5716.50","k":"dk"},
{"x":120.3,"p":5708.2,"t":"5708.00","k":"dp"},
{"x":120.3,"p":5696.1,"t":"5696.05","k":"dp"},
{"x":120.3,"p":5693.25,"t":"5693.00","k":"dp"},
{"x":120.3,"p":5683.7,"t":"5683.50","k":"dp"},
{"x":120.3,"p":5663.0,"t":"5663.25","k":"dk"},
{"x":120.3,"p":5644.1,"t":"5644.00","k":"dk"},
{"x":120.3,"p":5633.2,"t":"5633.22","k":"dp"},
{"x":120.3,"p":5613.6,"t":"5613.50","k":"dk"},
{"x":120.3,"p":5721.3,"t":"YHigh","k":"or"},
{"x":120.3,"p":5718.0,"t":"o/n Hi","k":"cy"},
{"x":120.3,"p":5706.9,"t":"YVAH","k":"gy"},
{"x":120.3,"p":5702.2,"t":"YPOC","k":"mg"},
{"x":120.3,"p":5698.3,"t":"Open","k":"rd"},
{"x":120.3,"p":5692.0,"t":"YVAL","k":"gy"},
{"x":120.3,"p":5690.3,"t":"YLow","k":"or"},
{"x":124.65,"p":5611.3,"t":"13","k":"wh"}
]},
"mark": {"type": "text", "align": "center", "baseline": "middle", "fontSize": 11.5, "font": "Liberation Sans", "clip": false},
"encoding": {
"x": {"field": "x", "type": "quantitative", "scale": {"domain": [-0.714, 125.357], "nice": false, "zero": false}, "axis": null},
"y": {"field": "p", "type": "quantitative", "scale": {"domain": [5612.66, 5737.15], "nice": false, "zero": false}, "axis": null},
"text": {"field": "t"},
"color": {"field": "k", "type": "nominal", "legend": null, "scale": {"domain": ["dk","dp","or","cy","gy","mg","rd","wh"], "range": ["#1a1a1a","#3a0034","#e87800","#00e4ff","#a8a8a8","#e000e0","#ff0000","#ffffff"]}}
}
}
]
}
